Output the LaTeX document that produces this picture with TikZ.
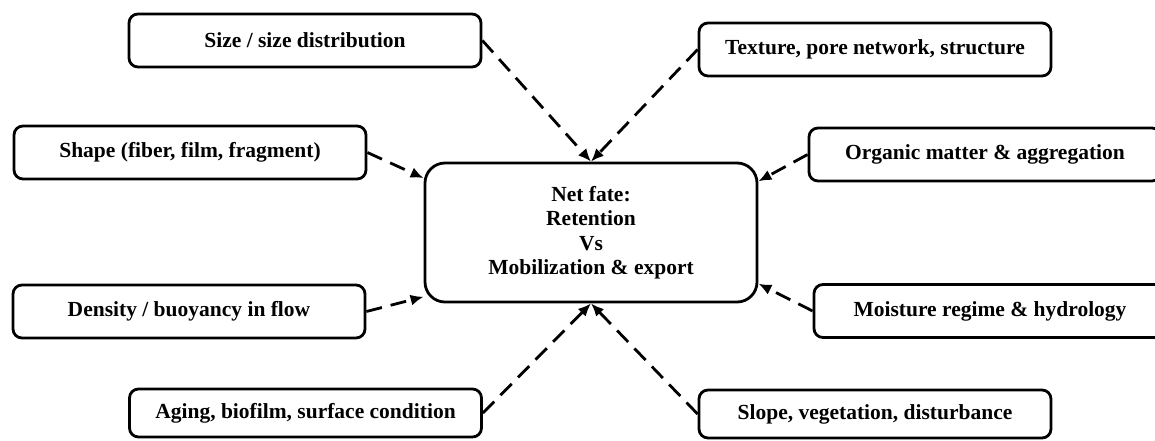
\documentclass[tikz,border=0pt]{standalone}
\usepackage{fontspec}
\setmainfont{Liberation Serif}
\usetikzlibrary{arrows.meta}

\begin{document}
\begin{tikzpicture}[x=1pt,y=-1pt,->,>={Latex[length=13pt,width=11pt]},line width=2.8pt]
    \tikzstyle{factor}=[draw,rounded corners=9pt,minimum width=352pt,minimum height=53pt,inner sep=0pt,font=\fontsize{21.5}{24.5}\selectfont\bfseries]
    \tikzstyle{low factor}=[factor,minimum height=48pt]
    \tikzstyle{fate}=[factor,rounded corners=20pt,minimum width=332pt,minimum height=139pt,align=center]
    \tikzstyle{link}=[dash pattern=on 16pt off 9pt]

    \useasboundingbox (0,0) rectangle (1155,440);

    % Draw the net fate box in the middle
    \node[fate] (net) at (591,232.5) {Net fate:\\Retention\\Vs\\Mobilization \& export};

    % Draw the factor boxes on the left
    \node[factor] (size) at (305,40.5) {Size / size distribution};
    \node[factor] (shape) at (190,152.5) {Shape (fiber, film, fragment)};
    \node[factor] (density) at (189,311.5) {Density / buoyancy in flow};
    \node[low factor] (aging) at (305.5,413) {Aging, biofilm, surface condition};

    % Draw the factor boxes on the right
    \node[factor] (texture) at (875,49.5) {Texture, pore network, structure};
    \node[factor] (organic) at (985,154.5) {Organic matter \& aggregation};
    \node[factor] (moisture) at (990,311) {Moisture regime \& hydrology};
    \node[low factor] (slope) at (875,414) {Slope, vegetation, disturbance};

    % Connect every factor with the net fate box
    \path[link] (size.east) edge (net.north);
    \path[link] (texture.west) edge (net.north);
    \path[link] (shape.east) edge (net.162);
    \path[link] (organic.west) edge (net.17);
    \path[link] (density.east) edge (net.201);
    \path[link] (moisture.west) edge (net.-17);
    \path[link] (aging.east) edge (net.south);
    \path[link] (slope.west) edge (net.south);
\end{tikzpicture}
\end{document}
